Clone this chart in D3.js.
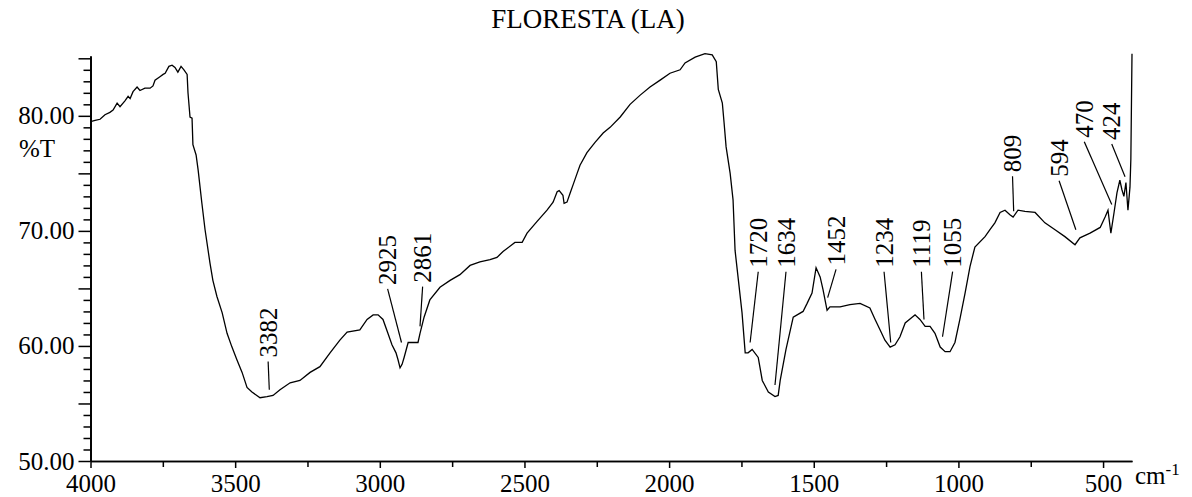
<!DOCTYPE html>
<html>
  <head>
    <meta charset="utf-8">
    <title>FLORESTA (LA)</title>
    <script src="https://cdn.jsdelivr.net/npm/d3@7"></script>
    <style>
      body { margin: 0; background: #fff; }
      svg, svg text { font-family: "Liberation Serif", "Times New Roman", Tinos, "DejaVu Serif", serif; fill: #000; }
    </style>
  </head>
  <body>
    <svg width="1192" height="497" id="mainsvg"></svg>
    <script>
      const title = 'FLORESTA (LA)';
      const yLabel = '%T';

      // spectrum
      const wavenumber = [4000, 3984, 3967, 3950, 3933, 3922, 3908, 3898, 3881, 3870, 3863, 3853, 3839, 3829, 3812, 3794,
        3784, 3777, 3760, 3749, 3742, 3729, 3718, 3708, 3698, 3687, 3677, 3666, 3663, 3656, 3649, 3646, 3635, 3628,
        3615, 3604, 3587, 3577, 3563, 3545, 3528, 3511, 3494, 3476, 3459, 3442, 3414, 3390, 3369, 3345, 3310, 3276,
        3241, 3207, 3172, 3138, 3113, 3069, 3044, 3023, 3006, 2989, 2972, 2958, 2944, 2937, 2930, 2923, 2916, 2902,
        2889, 2868, 2861, 2847, 2827, 2792, 2757, 2723, 2688, 2654, 2619, 2595, 2574, 2533, 2508, 2491, 2457, 2422,
        2401, 2387, 2380, 2367, 2363, 2353, 2342, 2332, 2318, 2308, 2284, 2256, 2228, 2204, 2169, 2135, 2100, 2066,
        2031, 1997, 1962, 1945, 1910, 1876, 1851, 1837, 1830, 1816, 1810, 1803, 1789, 1779, 1772, 1748, 1737, 1727,
        1713, 1692, 1678, 1657, 1634, 1623, 1616, 1596, 1571, 1537, 1523, 1506, 1492, 1478, 1468, 1454, 1444, 1409,
        1375, 1340, 1306, 1288, 1271, 1254, 1236, 1219, 1202, 1184, 1160, 1150, 1133, 1115, 1098, 1081, 1063, 1046,
        1029, 1012, 995, 977, 960, 943, 908, 891, 874, 856, 839, 822, 811, 794, 770, 735, 701, 666, 632, 597, 580,
        545, 510, 493, 483, 473, 462, 452, 442, 435, 428, 421, 414, 407, 404, 400];
      const transmittance = [79.5, 79.6, 79.7, 80.1, 80.3, 80.5, 81.1, 80.8, 81.3, 81.7, 81.5, 82.1, 82.5, 82.2, 82.4, 82.4,
        82.6, 83.1, 83.4, 83.6, 83.7, 84.3, 84.4, 84.2, 83.8, 84.3, 84.0, 83.6, 82.0, 79.9, 79.8, 77.5, 76.6, 75.3,
        72.4, 70.1, 67.2, 65.7, 64.3, 62.9, 61.1, 59.9, 58.8, 57.7, 56.4, 56.0, 55.5, 55.6, 55.7, 56.2, 56.8, 57.0,
        57.7, 58.2, 59.4, 60.5, 61.2, 61.4, 62.3, 62.7, 62.7, 62.3, 61.1, 60.1, 59.4, 58.8, 58.1, 58.4, 59.0, 60.3,
        60.3, 60.3, 61.1, 62.5, 64.0, 65.1, 65.7, 66.2, 67.0, 67.3, 67.5, 67.7, 68.2, 69.0, 69.0, 69.8, 70.8, 71.8,
        72.5, 73.4, 73.5, 73.1, 72.4, 72.5, 73.3, 74.0, 75.0, 75.7, 76.8, 77.7, 78.5, 79.0, 79.9, 81.0, 81.8, 82.5,
        83.1, 83.7, 84.0, 84.6, 85.1, 85.4, 85.3, 84.7, 82.3, 81.1, 79.4, 77.3, 75.0, 72.7, 68.3, 62.9, 59.4, 59.4,
        59.7, 59.0, 57.0, 56.0, 55.6, 55.7, 57.0, 59.7, 62.5, 63.0, 63.7, 64.6, 66.8, 66.0, 64.9, 63.1, 63.4, 63.4,
        63.6, 63.7, 63.3, 62.3, 61.4, 60.5, 59.9, 60.1, 60.8, 62.0, 62.5, 62.7, 62.3, 61.7, 61.7, 61.1, 59.9, 59.5,
        59.5, 60.3, 62.3, 64.6, 66.9, 68.6, 69.5, 70.1, 70.7, 71.6, 71.8, 71.4, 71.2, 71.8, 71.7, 71.6, 70.7, 70.1,
        69.5, 68.8, 69.4, 69.8, 70.3, 71.2, 71.8, 69.8, 71.6, 73.3, 74.4, 73.6, 73.0, 74.2, 71.8, 73.8, 76.2, 85.4];

      const yTicks = [50, 60, 70, 80];
      const xTicks = [4000, 3500, 3000, 2500, 2000, 1500, 1000, 500];

      // marked bands
      const peaks = [3382, 2925, 2861, 1720, 1634, 1452, 1234, 1119, 1055, 809, 594, 470, 424];
      // label foot (cm-1, %T) and where the leader meets the curve (%T)
      const labelWn = [3386, 2973, 2852, 1692, 1596, 1423, 1257, 1128, 1020, 813, 652, 565, 470];
      const labelT = [59.0, 65.3, 65.5, 66.8, 66.8, 67.0, 66.8, 66.8, 66.8, 75.1, 74.7, 78.1, 77.9];
      const tipT = [56.2, 60.3, 61.7, 60.3, 56.6, 64.2, 60.3, 62.3, 60.8, 71.7, 70.1, 72.3, 74.7];

      const svg = d3.select('#mainsvg');
      const xScale = d3.scaleLinear().domain([4000, 400]).range([90.5, 1132]);
      const yScale = d3.scaleLinear().domain([50, 85.2]).range([461, 56]);
      const fontSize = 25;

      svg.append('text')
        .attr('x', 588).attr('y', 28)
        .attr('text-anchor', 'middle')
        .attr('font-size', 27)
        .text(title);

      // y axis: labelled every 10, longer ticks every 5, short ones every 1
      const yAxis = svg.append('g').attr('transform', `translate(${xScale(4000)},0)`);
      yAxis.call(d3.axisLeft(yScale).tickValues(yTicks).tickSize(12).tickSizeOuter(0)
        .tickPadding(4).tickFormat(d3.format('.2f')));
      yAxis.append('g').call(d3.axisLeft(yScale).tickValues(d3.range(55, 86, 10))
        .tickSize(12).tickSizeOuter(0).tickFormat(''));
      yAxis.append('g').call(d3.axisLeft(yScale).tickValues(d3.range(51, 86).filter(v => v % 5 !== 0))
        .tickSize(7).tickSizeOuter(0).tickFormat(''));

      const xAxis = svg.append('g').attr('transform', `translate(0,${yScale(50)})`);
      xAxis.call(d3.axisBottom(xScale).tickValues(xTicks).tickSize(7).tickSizeOuter(0)
        .tickPadding(6).tickFormat(d3.format('d')));
      xAxis.append('g').call(d3.axisBottom(xScale).tickValues(d3.range(3750, 400, -500))
        .tickSize(6).tickSizeOuter(0).tickFormat(''));

      svg.selectAll('g').attr('font-family', null).attr('font-size', null);
      svg.selectAll('.tick text').attr('font-size', fontSize);
      svg.selectAll('.domain, .tick line').attr('stroke', '#000').attr('stroke-width', 1.5);

      svg.append('text')
        .attr('x', 37).attr('y', 157)
        .attr('text-anchor', 'middle')
        .attr('font-size', fontSize)
        .text(yLabel);

      const unit = svg.append('text')
        .attr('x', xScale(400) + 3).attr('y', 484)
        .attr('font-size', fontSize);
      unit.append('tspan').text('cm');
      unit.append('tspan').attr('dy', -9).attr('font-size', 17).text('-1');

      const line = d3.line()
        .x(d => xScale(d[0]))
        .y(d => yScale(d[1]));
      svg.append('path')
        .datum(d3.zip(wavenumber, transmittance))
        .attr('d', line)
        .attr('fill', 'none')
        .attr('stroke', '#000')
        .attr('stroke-width', 1.3);

      const marks = svg.append('g').selectAll('g').data(peaks).join('g');
      marks.append('line')
        .attr('x1', (d, i) => xScale(labelWn[i]))
        .attr('y1', (d, i) => yScale(labelT[i]) + 4)
        .attr('x2', d => xScale(d))
        .attr('y2', (d, i) => yScale(tipT[i]))
        .attr('stroke', '#000')
        .attr('stroke-width', 1.2);
      marks.append('text')
        .attr('transform', (d, i) => `translate(${xScale(labelWn[i])},${yScale(labelT[i])}) rotate(-90)`)
        .attr('dy', '0.35em')
        .attr('font-size', fontSize)
        .text(d => d);
    </script>
  </body>
</html>
